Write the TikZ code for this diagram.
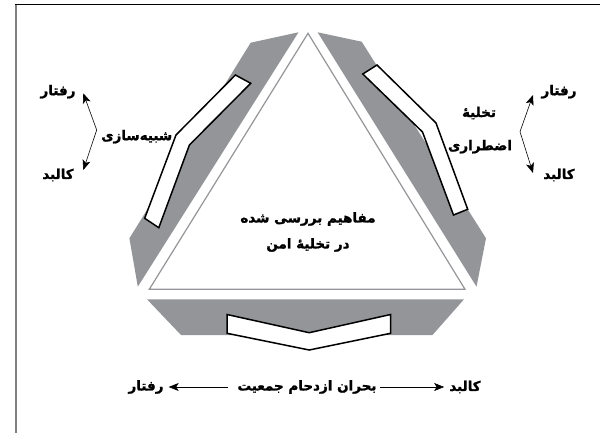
\documentclass[tikz,border=0pt]{standalone}
\usepackage{fontspec}
\newfontfamily\arabicfont[Script=Arabic,FakeBold=1.4]{DejaVu Sans Bold}
\TeXXeTstate=1
\usetikzlibrary{arrows.meta,positioning}
\definecolor{bandgray}{HTML}{939598}

\begin{document}
\begin{tikzpicture}[
    x=1pt, y=-1pt,
    every node/.style={font=\arabicfont\fontsize{13.5}{16}\selectfont, inner sep=1pt},
    band/.style={fill=bandgray, draw=none},
    bar/.style={fill=white, draw=black, line width=1.5pt, line join=miter},
    arr/.style={-{Stealth[length=10pt,width=8pt,inset=2.5pt]}, line width=0.6pt}
]
\useasboundingbox (0,0) rectangle (600,433);
% frame
\draw[gray, line width=1.2pt] (16,433) -- (16,4);
\draw[line width=0.9pt] (15.4,4) -- (600,4);

% shaded bands round the triangle
\fill[band] (298.5,32.3) -- (250.7,42.7) -- (129.4,238.3) -- (137.8,286.7) -- cycle;
\fill[band] (317.6,32.3) -- (361.7,41.7) -- (486,238.3) -- (476.5,286.7) -- cycle;
\fill[band] (147,299.3) -- (464,299.3) -- (432.5,335) -- (181,335) -- cycle;

% central triangle
\draw[bandgray, line width=1.2pt] (308,33.3) -- (465,289.3) -- (149.3,289.3) -- cycle;

% white bars
\draw[bar] (235.4,75) -- (250.7,83.3) -- (189.4,145) -- (158.8,227.7) -- (144.7,218.3) -- (176,135) -- cycle;
\draw[bar] (377,65) -- (362.8,74) -- (422.5,132) -- (453.5,215) -- (467.7,209.3) -- (436,123) -- cycle;
\draw[bar] (227,314.5) -- (309.2,332.7) -- (390.6,314.5) -- (390.6,333.3) -- (309.2,350) -- (227,333.3) -- cycle;

% centre text
\node[align=center] (concept) at (308,232) {\beginR مفاهیم بررسی شده\endR\\[10pt]\beginR در تخلیهٔ امن\endR};

% left: simulation
\node (lbeh) at (58,91.7) {\beginR رفتار\endR};
\node (lbody) at (58,175) {\beginR کالبد\endR};
\node (lsim) at (136.7,136.7) {\beginR شبیه‌سازی\endR};
\coordinate (lv) at (96.7,130);
\coordinate (ltop) at (83.3,93.3);
\coordinate (lbot) at (83.3,170);
\draw[arr] (lv) -- (ltop);
\draw[arr] (lv) -- (lbot);

% right: emergency evacuation
\node (rbeh) at (559,91.7) {\beginR رفتار\endR};
\node (rbody) at (559,175) {\beginR کالبد\endR};
\node (revac) at (479,113) {\beginR تخلیهٔ\endR};
\node (rurg) at (480,146.7) {\beginR اضطراری\endR};
\coordinate (rv) at (520,131.7);
\coordinate (rtop) at (533,95);
\coordinate (rbot) at (533,173);
\draw[arr] (rv) -- (rtop);
\draw[arr] (rv) -- (rbot);

% bottom: crowd crisis
\node (crisis) at (307,387) {\beginR بحران ازدحام جمعیت\endR};
\node (bbeh) at (146,387) {\beginR رفتار\endR};
\node (bbody) at (465,387) {\beginR کالبد\endR};
\draw[arr, shorten <=8pt, shorten >=4pt] (crisis) -- (bbeh);
\draw[arr, shorten <=2pt, shorten >=4pt] (crisis) -- (bbody);
\end{tikzpicture}
\end{document}
